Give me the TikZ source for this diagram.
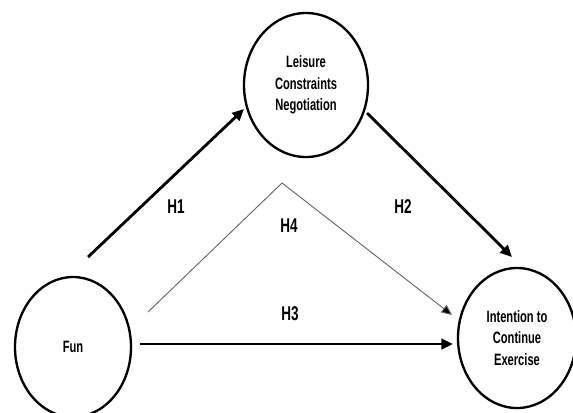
\documentclass[tikz,border=0pt]{standalone}
\usepackage{fontspec}
\setmainfont{Liberation Sans}
\newfontfamily\ctfont[FakeStretch=0.68]{Liberation Sans}
\newfontfamily\labfont[FakeStretch=0.68]{Liberation Sans}
\usetikzlibrary{shapes.geometric,arrows.meta,calc}
\begin{document}
\begin{tikzpicture}[x=0.03cm,y=-0.03cm,
  construct/.style={ellipse,draw,line width=2pt,inner sep=0pt,align=center,
     font=\ctfont\bfseries\fontsize{14}{18.5}\selectfont},
  patharrow/.style={line width=2.4pt,-{Triangle[length=10pt,width=9pt]}},
  thinarrow/.style={line width=0.8pt,draw=black!60,-{Triangle[length=9pt,width=8pt,fill=black]}},
  hlabel/.style={font=\labfont\bfseries\fontsize{17}{19}\selectfont,inner sep=0pt}]
\useasboundingbox (0,0) rectangle (573,412);
\node[construct,minimum width=3.72cm,minimum height=4.32cm] (lcn) at (306,85) {Leisure\\Constraints\\Negotiation};
\node[construct,minimum width=3.48cm,minimum height=4.2cm] (fun) at (73,347) {Fun};
\node[construct,minimum width=3.54cm,minimum height=4.2cm] (ice) at (517,338) {Intention to\\Continue\\Exercise};
\coordinate (h1s) at ($(fun)+(15,-90)$);
\coordinate (h1e) at ($(lcn)+(-62,24)$);
\coordinate (h2s) at ($(lcn)+(61,28)$);
\coordinate (h2e) at ($(ice)+(-5,-81)$);
\coordinate (h3s) at ($(fun)+(67,-3)$);
\coordinate (h3e) at ($(ice)+(-64,6)$);
\coordinate (h4s) at ($(fun)+(75,-35)$);
\coordinate (apex) at ($(lcn)+(-24,98)$);
\coordinate (h4e) at ($(ice)+(-65,-23)$);
\draw[patharrow] (h1s) -- (h1e);
\draw[patharrow] (h2s) -- (h2e);
\draw[patharrow] (h3s) -- (h3e);
\draw[thinarrow] (h4s) -- (apex) -- (h4e);
\node[hlabel] (l1) at (176,207) {H1};
\node[hlabel] (l2) at (403,207) {H2};
\node[hlabel] (l4) at (289,226) {H4};
\node[hlabel] (l3) at (290,314) {H3};
\end{tikzpicture}
\end{document}
